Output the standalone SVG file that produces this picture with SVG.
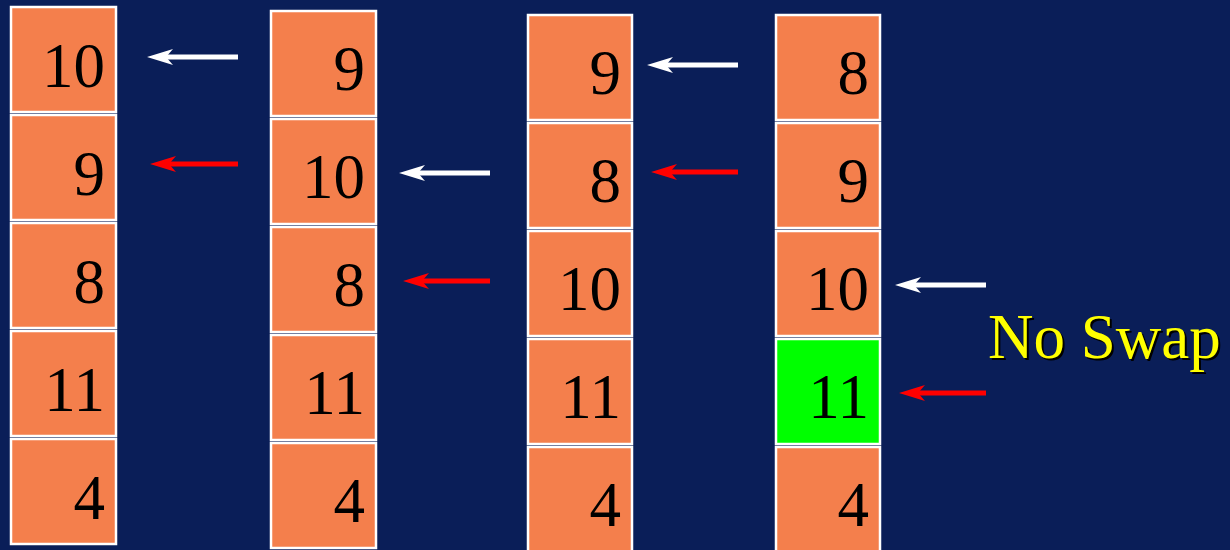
<svg xmlns="http://www.w3.org/2000/svg" width="1230" height="550" viewBox="0 0 1230 550">
<style>
.cell{fill:#f47f4c;stroke:#ffffff;stroke-width:2.5}
.hi{fill:#00ff00}
.num{font-family:"Liberation Serif","Times New Roman",serif;font-size:63px;fill:#000;text-anchor:end}
.w{stroke:#ffffff;stroke-width:5;fill:none}
.r{stroke:#ff0000;stroke-width:5;fill:none}
.lbl{font-family:"Liberation Serif","Times New Roman",serif;font-size:63px}
</style>
<defs>
<marker id="hw" markerUnits="userSpaceOnUse" markerWidth="30" markerHeight="20" viewBox="0 -10 30 20" refX="7" refY="0" orient="auto">
<path d="M26,0 L0,-8 L7,0 L0,8 Z" fill="#ffffff"/>
</marker>
<marker id="hr" markerUnits="userSpaceOnUse" markerWidth="30" markerHeight="20" viewBox="0 -10 30 20" refX="7" refY="0" orient="auto">
<path d="M26,0 L0,-8 L7,0 L0,8 Z" fill="#ff0000"/>
</marker>
</defs>
<rect width="1230" height="550" fill="#0a1e58"/>

<g id="col1">
<g id="c1r1"><rect class="cell" x="11" y="7" width="105" height="105"/><text class="num" x="105" y="87">10</text></g>
<g id="c1r2"><rect class="cell" x="11" y="115" width="105" height="105"/><text class="num" x="105" y="195">9</text></g>
<g id="c1r3"><rect class="cell" x="11" y="223" width="105" height="105"/><text class="num" x="105" y="303">8</text></g>
<g id="c1r4"><rect class="cell" x="11" y="331" width="105" height="105"/><text class="num" x="105" y="411">11</text></g>
<g id="c1r5"><rect class="cell" x="11" y="439" width="105" height="105"/><text class="num" x="105" y="519">4</text></g>
</g>

<g id="col2">
<g id="c2r1"><rect class="cell" x="271" y="11" width="105" height="105"/><text class="num" x="365" y="90">9</text></g>
<g id="c2r2"><rect class="cell" x="271" y="119" width="105" height="105"/><text class="num" x="365" y="198">10</text></g>
<g id="c2r3"><rect class="cell" x="271" y="227" width="105" height="105"/><text class="num" x="365" y="306">8</text></g>
<g id="c2r4"><rect class="cell" x="271" y="335" width="105" height="105"/><text class="num" x="365" y="414">11</text></g>
<g id="c2r5"><rect class="cell" x="271" y="443" width="105" height="105"/><text class="num" x="365" y="522">4</text></g>
</g>

<g id="col3">
<g id="c3r1"><rect class="cell" x="528" y="15" width="104" height="105"/><text class="num" x="621" y="94">9</text></g>
<g id="c3r2"><rect class="cell" x="528" y="123" width="104" height="105"/><text class="num" x="621" y="202">8</text></g>
<g id="c3r3"><rect class="cell" x="528" y="231" width="104" height="105"/><text class="num" x="621" y="310">10</text></g>
<g id="c3r4"><rect class="cell" x="528" y="339" width="104" height="105"/><text class="num" x="621" y="418">11</text></g>
<g id="c3r5"><rect class="cell" x="528" y="447" width="104" height="105"/><text class="num" x="621" y="526">4</text></g>
</g>

<g id="col4">
<g id="c4r1"><rect class="cell" x="776" y="15" width="104" height="105"/><text class="num" x="869" y="94">8</text></g>
<g id="c4r2"><rect class="cell" x="776" y="123" width="104" height="105"/><text class="num" x="869" y="202">9</text></g>
<g id="c4r3"><rect class="cell" x="776" y="231" width="104" height="105"/><text class="num" x="869" y="310">10</text></g>
<g id="c4r4"><rect class="cell hi" x="776" y="339" width="104" height="105"/><text class="num" x="869" y="418">11</text></g>
<g id="c4r5"><rect class="cell" x="776" y="447" width="104" height="105"/><text class="num" x="869" y="526">4</text></g>
</g>

<g id="connectors">
<path class="w" d="M238,57 L166,57" marker-end="url(#hw)"/>
<path class="r" d="M238,164 L169,164" marker-end="url(#hr)"/>
<path class="w" d="M490,173 L418,173" marker-end="url(#hw)"/>
<path class="r" d="M490,281 L422,281" marker-end="url(#hr)"/>
<path class="w" d="M738,65 L666,65" marker-end="url(#hw)"/>
<path class="r" d="M738,172 L670,172" marker-end="url(#hr)"/>
<path class="w" d="M986,285 L914,285" marker-end="url(#hw)"/>
<path class="r" d="M986,393 L918,393" marker-end="url(#hr)"/>
</g>

<g id="label">
<text class="lbl" x="990" y="360" fill="#000000">No Swap</text>
<text class="lbl" x="988" y="358" fill="#ffff00">No Swap</text>
</g>
</svg>
